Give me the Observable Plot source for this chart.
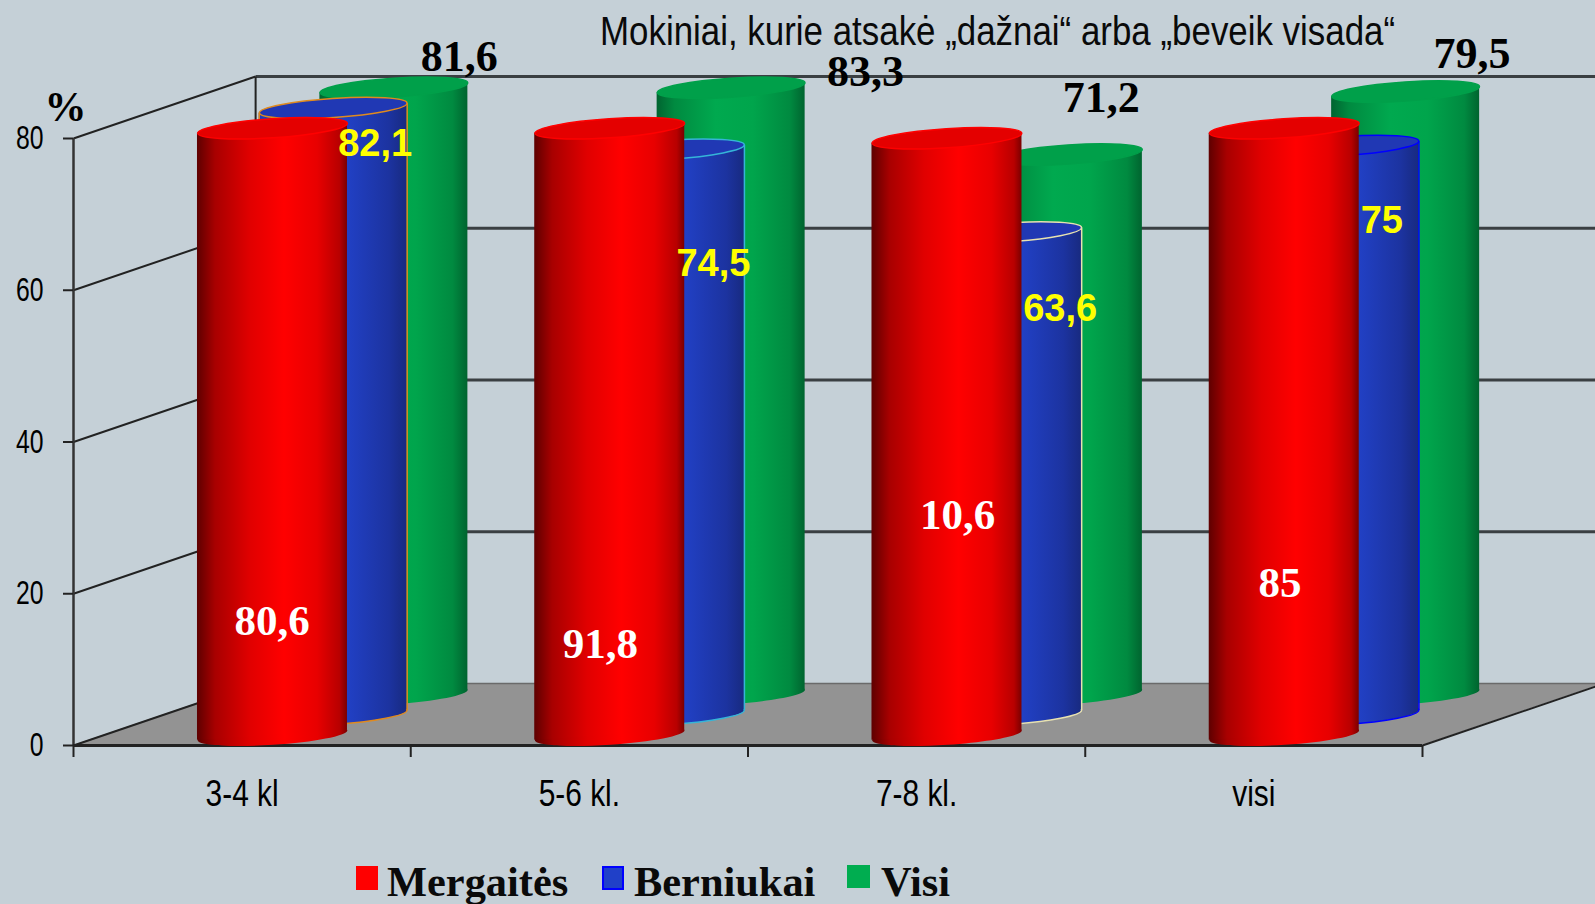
<!DOCTYPE html>
<html lang="lt">
<head>
<meta charset="utf-8">
<script src="https://cdn.jsdelivr.net/npm/d3@7"></script>
<script src="https://cdn.jsdelivr.net/npm/@observablehq/plot@0.6"></script>
<style>
  html, body { margin: 0; padding: 0; background: #c5d0d7; width: 1595px; height: 904px; overflow: hidden; }
  #wrap { position: relative; width: 1595px; height: 904px; overflow: hidden; }
  #title { position: absolute; left: 600px; top: 8px; font: 41px "Liberation Sans", sans-serif; color: #0a0a0a; white-space: nowrap; transform: scaleX(0.851); transform-origin: left top; }
  .lg { position: absolute; top: 858px; font: bold 42.4px/48px "Liberation Serif", serif; color: #0a0a0a; white-space: nowrap; }
  .sw { position: absolute; top: 866px; height: 24px; box-sizing: border-box; }
  svg { display: block; }
</style>
</head>
<body>
<div id="wrap">
  <div id="chart"></div>
  <div id="title">Mokiniai, kurie atsakė „dažnai“ arba „beveik visada“</div>
  <div class="sw" style="left:356px;width:22px;background:#ff0000"></div>
  <div class="lg" style="left:387px">Mergaitės</div>
  <div class="sw" style="left:602px;width:22px;background:#2040c8;border:2px solid #0000ff"></div>
  <div class="lg" style="left:634px">Berniukai</div>
  <div class="sw" style="left:847px;width:23px;top:865px;height:23px;background:#00ad50"></div>
  <div class="lg" style="left:881px">Visi</div>
</div>
<script>
// ---- data ----
const categories = ["3-4 kl", "5-6 kl.", "7-8 kl.", "visi"];
const mergaites = [80.6, 91.8, 78.7, 85];
const berniukai = [82.1, 74.5, 63.6, 75];
const visi = [81.6, 83.3, 71.2, 79.5];
const mergaitesLabels = ["80,6", "91,8", "10,6", "85"];
const berniukaiLabels = ["82,1", "74,5", "63,6", "75"];
const visiLabels = ["81,6", "83,3", "71,2", "79,5"];
const yTicks = [0, 20, 40, 60, 80];

// ---- chart geometry (in scale units) ----
const yMax = 80;
const depthX = 0.54, depthY = 8.04, wallDepthY = 8.17;
const tilt = 0.66;
const berniukaiRims = ["#e08a1e", "#35b5d8", "#e8e2b0", "#0000ff"];

// hand-placed label nudges in pixels, as on the original slide
const whiteNudge = [[30, -111], [21, -88], [41, -217], [26, -149]];
const yellowNudge = [[133, 17], [134, 96], [143.5, 58], [128, 57]];
const blackNudge = [[217, -68], [286, -53], [184.5, -93], [218, -74]];

function ellipseSymbol(rx, ry) {
  const a = -Math.atan2(10, 150), c = Math.cos(a), s = Math.sin(a), k = 0.5523;
  const P = (x, y) => [x * c - y * s, x * s + y * c];
  return {
    draw(ctx) {
      ctx.moveTo(...P(rx, 0));
      ctx.bezierCurveTo(...P(rx, k * ry), ...P(k * rx, ry), ...P(0, ry));
      ctx.bezierCurveTo(...P(-k * rx, ry), ...P(-rx, k * ry), ...P(-rx, 0));
      ctx.bezierCurveTo(...P(-rx, -k * ry), ...P(-k * rx, -ry), ...P(0, -ry));
      ctx.bezierCurveTo(...P(k * rx, -ry), ...P(rx, -k * ry), ...P(rx, 0));
      ctx.closePath();
    }
  };
}

function cylinder(v, i, o) {
  const t = o.depth;
  const cx = i + 0.5 + depthX * t;
  const base = depthY * t;
  const top = Math.min(v, yMax) + depthY * t;
  const hw = o.rx / 337.25;
  const sym = ellipseSymbol(o.rx, 9.5);
  const rim = o.rim ? o.rim[i] : o.rimColor;
  const rows = [
    {x: cx - hw, y1: base - tilt, y2: top - tilt},
    {x: cx + hw, y1: base + tilt, y2: top + tilt}
  ];
  const out = [
    Plot.dot([{x: cx, y: base}], {x: "x", y: "y", r: 1, symbol: sym, fill: `url(#${o.grad})`, stroke: o.rim ? rim : "none", strokeWidth: 1.5}),
    Plot.area(rows, {x1: "x", y1: "y1", y2: "y2", fill: `url(#${o.grad})`})
  ];
  if (o.rim) out.push(Plot.link(rows, {x1: "x", x2: "x", y1: "y1", y2: "y2", stroke: rim, strokeWidth: 1.5}));
  out.push(Plot.dot([{x: cx, y: top}], {x: "x", y: "y", r: 1, symbol: sym, fill: o.cap, stroke: rim, strokeWidth: 1.5}));
  return out;
}

function gradients() {
  const defs = d3.create("svg:defs");
  const add = (id, stops) => {
    const g = defs.append("linearGradient").attr("id", id);
    stops.forEach(([p, c]) => g.append("stop").attr("offset", p).attr("stop-color", c));
  };
  add("gRed", [[0, "#5e0000"], [0.12, "#a80000"], [0.35, "#e00000"], [0.58, "#ff0000"], [0.8, "#e80000"], [0.95, "#b80000"], [1, "#7a0000"]]);
  add("gBlue", [[0, "#1f3cb8"], [0.3, "#2242c8"], [0.6, "#2140c4"], [0.88, "#1c33a0"], [1, "#182a80"]]);
  add("gGreen", [[0, "#006430"], [0.12, "#008a40"], [0.4, "#00a94f"], [0.65, "#00a54c"], [0.9, "#008a40"], [1, "#00642f"]]);
  return defs.node();
}

const wallLevels = yTicks;
const wallColor = "#3a3f42";
const floor = [{y: 0, x1: 0, x2: 4}, {y: wallDepthY, x1: depthX, x2: 4 + depthX}];

const marks = [
  gradients,
  // floor
  Plot.area(floor, {x1: "x1", x2: "x2", y1: "y", y2: "y", fill: "#939393"}),
  // side wall diagonals
  Plot.link(wallLevels, {x1: () => 0, x2: () => depthX, y1: d => d, y2: d => d + wallDepthY, stroke: "#222", strokeWidth: 2}),
  // back wall
  Plot.link(wallLevels.filter(d => d > 0), {x1: () => depthX, x2: () => 4 + depthX, y1: d => d + wallDepthY, y2: d => d + wallDepthY, stroke: wallColor, strokeWidth: 3}),
  Plot.link([0], {x1: () => depthX, x2: () => 4 + depthX, y1: () => wallDepthY, y2: () => wallDepthY, stroke: "#6a6a6a", strokeWidth: 1.5}),
  Plot.link([0], {x1: () => depthX, x2: () => depthX, y1: () => wallDepthY, y2: () => yMax + wallDepthY, stroke: "#222", strokeWidth: 2}),
  // right floor edge
  Plot.link([0], {x1: () => 4, x2: () => 4 + depthX, y1: () => 0, y2: () => wallDepthY, stroke: "#222", strokeWidth: 2}),
  // front axes
  Plot.ruleX([0], {y1: 0, y2: yMax, stroke: "#333", strokeWidth: 2.5}),
  Plot.ruleY([0], {x1: 0, x2: 4, stroke: "#222", strokeWidth: 3}),
  Plot.axisY({ticks: yTicks, tickSize: 10, tickPadding: 20, fontSize: 33, label: null, stroke: "#222", strokeWidth: 2, fill: "#000", textStroke: "none"}),
  Plot.axisX({ticks: [0, 1, 2, 3, 4], tickSize: 12, tickFormat: () => "", label: null, stroke: "#222", strokeWidth: 2}),
  Plot.axisX({ticks: categories.map((_, i) => i + 0.5), tickSize: 0, tickPadding: 35, tickFormat: d => categories[d - 0.5], fontSize: 36, label: null, fill: "#000"}),
  // cylinders, back to front
  ...visi.flatMap((v, i) => cylinder(v, i, {depth: 5 / 6, rx: 74, grad: "gGreen", cap: "#00a04a", rimColor: "#00a04a"})),
  ...berniukai.flatMap((v, i) => cylinder(v, i, {depth: 3 / 6, rx: 74, grad: "gBlue", cap: "#2038b4", rim: berniukaiRims})),
  ...mergaites.flatMap((v, i) => cylinder(v, i, {depth: 1 / 6, rx: 75, grad: "gRed", cap: "#e40000", rimColor: "#ff0000"})),
  // value labels
  ...visiLabels.map((s, i) => Plot.text([s], {x: () => i + 0.5, y: () => Math.min(visi[i], yMax), text: d => d, dx: blackNudge[i][0], dy: blackNudge[i][1], lineAnchor: "bottom", fontFamily: "Liberation Serif", fontWeight: "bold", fontSize: 44, fill: "#000"})),
  ...berniukaiLabels.map((s, i) => Plot.text([s], {x: () => i + 0.5, y: () => Math.min(berniukai[i], yMax), text: d => d, dx: yellowNudge[i][0], dy: yellowNudge[i][1], lineAnchor: "bottom", fontFamily: "Liberation Sans", fontWeight: "bold", fontSize: 38, fill: "#ffff00"})),
  ...mergaitesLabels.map((s, i) => Plot.text([s], {x: () => i + 0.5, y: () => 0, text: d => d, dx: whiteNudge[i][0], dy: whiteNudge[i][1], lineAnchor: "bottom", fontFamily: "Liberation Serif", fontWeight: "bold", fontSize: 43, fill: "#ffffff"})),
  // axis unit
  Plot.text(["%"], {x: () => 0, y: () => yMax, text: d => d, dx: -8, dy: -18, lineAnchor: "bottom", fontFamily: "Liberation Serif", fontWeight: "bold", fontSize: 42, fill: "#000"})
];

const chart = Plot.plot({
  width: 1595,
  height: 904,
  marginLeft: 73,
  marginRight: 173,
  marginTop: 138,
  marginBottom: 159,
  x: {domain: [0, 4]},
  y: {domain: [0, yMax]},
  style: {background: "transparent", fontFamily: "'Liberation Sans', sans-serif", overflow: "hidden"},
  marks
});
document.getElementById("chart").appendChild(chart);

// the axis labels on the slide are set in a condensed face: squeeze them the same way
function squeeze(selector, factor, shift) {
  chart.querySelectorAll(`${selector} text`).forEach(t => {
    const w = t.getComputedTextLength();
    if (w > 0) {
      t.setAttribute("textLength", w * factor);
      t.setAttribute("lengthAdjust", "spacingAndGlyphs");
      if (shift) t.setAttribute("dy", shift);
    }
  });
}
squeeze('[aria-label="y-axis tick label"]', 0.75, 0);
squeeze('[aria-label="x-axis tick label"]', 0.83, 0);
</script>
</body>
</html>
